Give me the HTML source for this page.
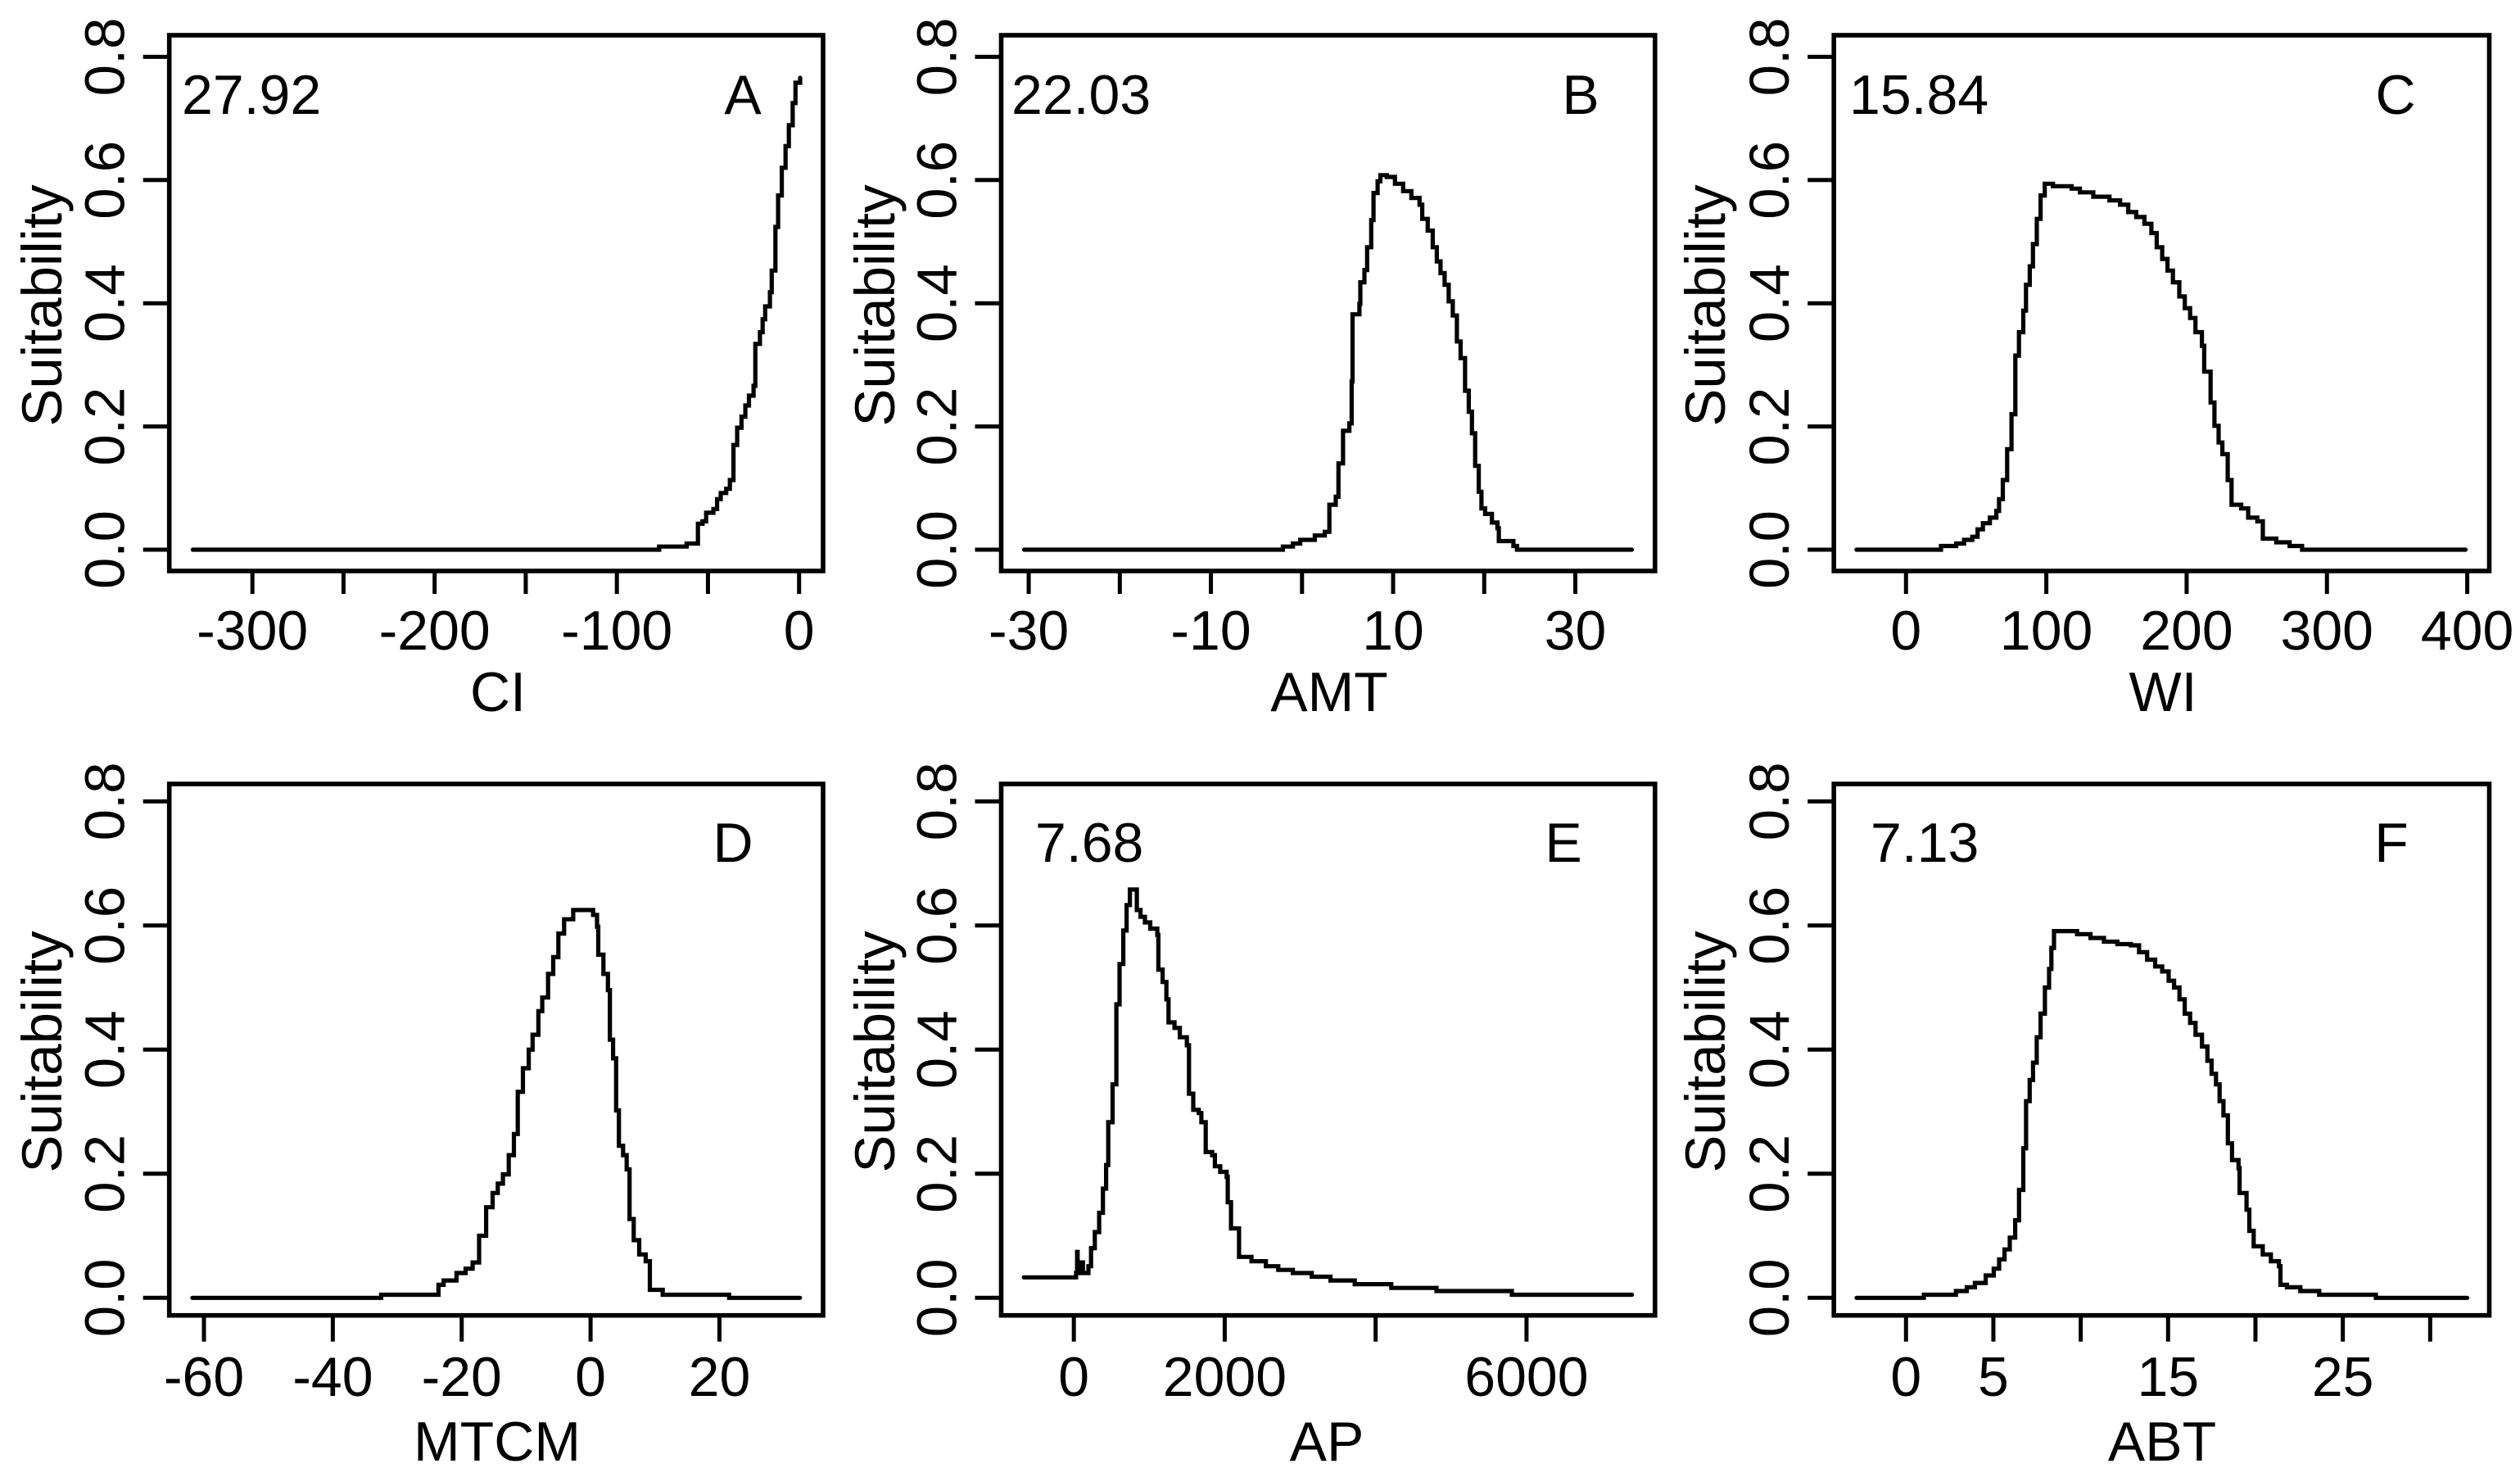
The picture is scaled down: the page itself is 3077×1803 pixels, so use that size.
<!DOCTYPE html>
<html lang="en">
<head>
<meta charset="utf-8">
<title>Suitability response curves</title>
<style>
  html, body { margin: 0; padding: 0; background: #fff; }
  svg { display: block; }
  text { font-family: "Liberation Sans", Arial, sans-serif; font-size: 68px; fill: #000; }
  text.rot { font-size: 69px; }
  .frame { fill: none; stroke: #000; stroke-width: 5.6; stroke-linejoin: miter; }
</style>
</head>
<body>
<svg id="chart" xmlns="http://www.w3.org/2000/svg" width="3077" height="1803" viewBox="0 0 3077 1803">
  <rect x="0" y="0" width="3077" height="1803" fill="#fff"/>

  <g id="panel-a">
    <rect class="frame" x="206.7" y="43" width="798.3" height="654"/>
    <text class="rot" x="75" y="373" transform="rotate(-90 75 373)" text-anchor="middle">Suitability</text>
    <text x="608" y="868" text-anchor="middle">CI</text>
    <text x="222" y="139">27.92</text>
    <text x="907" y="139" text-anchor="middle">A</text>
  </g>
  <g id="panel-b">
    <rect class="frame" x="1222.5" y="43" width="798.3" height="654"/>
    <text class="rot" x="1092" y="373" transform="rotate(-90 1092 373)" text-anchor="middle">Suitability</text>
    <text x="1623" y="868" text-anchor="middle">AMT</text>
    <text x="1235" y="139">22.03</text>
    <text x="1930" y="139" text-anchor="middle">B</text>
  </g>
  <g id="panel-c">
    <rect class="frame" x="2239.2" y="43" width="800.3" height="654"/>
    <text class="rot" x="2106" y="373" transform="rotate(-90 2106 373)" text-anchor="middle">Suitability</text>
    <text x="2641" y="868" text-anchor="middle">WI</text>
    <text x="2258" y="139">15.84</text>
    <text x="2925" y="139" text-anchor="middle">C</text>
  </g>
  <g id="panel-d">
    <rect class="frame" x="206.7" y="957" width="798.3" height="648.7"/>
    <text class="rot" x="75" y="1284" transform="rotate(-90 75 1284)" text-anchor="middle">Suitability</text>
    <text x="607" y="1783" text-anchor="middle">MTCM</text>
    <text x="895" y="1052" text-anchor="middle">D</text>
  </g>
  <g id="panel-e">
    <rect class="frame" x="1222.5" y="957" width="798.3" height="648.7"/>
    <text class="rot" x="1092" y="1284" transform="rotate(-90 1092 1284)" text-anchor="middle">Suitability</text>
    <text x="1620" y="1783" text-anchor="middle">AP</text>
    <text x="1264" y="1052">7.68</text>
    <text x="1909" y="1052" text-anchor="middle">E</text>
  </g>
  <g id="panel-f">
    <rect class="frame" x="2239.2" y="957" width="800.3" height="648.7"/>
    <text class="rot" x="2106" y="1284" transform="rotate(-90 2106 1284)" text-anchor="middle">Suitability</text>
    <text x="2640" y="1783" text-anchor="middle">ABT</text>
    <text x="2284" y="1052">7.13</text>
    <text x="2920" y="1052" text-anchor="middle">F</text>
  </g>
</svg>

<script>
// Shared y axis
const yTickValues = [0, 0.2, 0.4, 0.6, 0.8];
const yTickLabels = ["0.0", "0.2", "0.4", "0.6", "0.8"];

// Panel A: CI
const ciTicks = [-300, -250, -200, -150, -100, -50, 0];
const ciTickLabels = ["-300", "", "-200", "", "-100", "", "0"];
const ciValues = [-332.7,-76.8,-61.7,-55.5,-53,-51,-47,-45,-43,-40,-38,-36,-34,-31.6,-29.5,-27.5,-25,-24,-21.5,-20,-18.6,-16,-15,-13,-11.5,-9.5,-7.4,-5.6,-3.5,-2,0.6];
const ciSuitability = [0,.005,.01,.042,.046,.06,.066,.082,.092,.099,.113,.17,.198,.216,.234,.25,.266,.334,.353,.374,.395,.418,.453,.524,.575,.62,.655,.689,.725,.758,.766];

// Panel B: AMT
const amtTicks = [-30, -20, -10, 0, 10, 20, 30];
const amtTickLabels = ["-30", "", "-10", "", "10", "", "30"];
const amtValues = [-30.5,-2.1,-1,-0.2,1.4,2.5,3,3.7,4,4.5,5.2,5.45,5.55,6.3,6.4,6.85,7.15,7.6,7.85,8.3,8.6,9.3,10.2,11.1,12,12.9,13.2,13.8,14.35,14.8,15.2,15.65,16.1,16.55,17,17.4,17.9,18.3,18.65,19,19.4,19.7,20.1,20.85,21.45,21.6,23.2,23.6,36.2];
const amtSuitability = [0,.005,.01,.016,.023,.029,.073,.086,.14,.193,.205,.273,.382,.399,.434,.454,.491,.535,.579,.598,.608,.605,.594,.582,.571,.56,.537,.518,.491,.468,.449,.43,.403,.38,.338,.311,.258,.224,.189,.136,.094,.067,.058,.044,.035,.014,.006,0,0];

// Panel C: WI
const wiTicks = [0, 100, 200, 300, 400];
const wiTickLabels = ["0", "100", "200", "300", "400"];
const wiValues = [-35.3,24.9,35.7,41.4,47.2,51,54.8,59.8,64.4,66.3,69,72.1,75.2,77.9,80.5,83.6,85.5,88.2,90.5,93.2,95.9,98.9,104.7,118.1,123.9,133.5,145,152.6,158.4,164.1,169.9,174.9,178.7,182.6,186.4,190.2,194.8,198.7,202.5,206.3,210.9,212.5,217.1,219.8,222.8,225.5,229.3,232,238.9,243.9,250.4,254.3,263.9,273.4,282.3,398.8];
const wiSuitability = [0,.006,.01,.016,.021,.033,.043,.052,.063,.082,.113,.163,.22,.315,.353,.388,.43,.46,.496,.537,.575,.594,.59,.586,.58,.573,.567,.56,.548,.54,.529,.514,.491,.472,.453,.434,.411,.392,.376,.353,.331,.289,.239,.201,.174,.155,.113,.073,.067,.052,.046,.018,.012,.006,0,0];

// Panel D: MTCM
const mtcmTicks = [-60, -40, -20, 0, 20];
const mtcmTickLabels = ["-60", "-40", "-20", "0", "20"];
const mtcmValues = [-61.8,-32.5,-23.6,-22.8,-20.8,-19.4,-18.3,-17.3,-16.2,-15.2,-14.4,-13.6,-12.7,-11.9,-11.3,-10.5,-9.6,-9,-8.1,-7.5,-6.6,-5.8,-5,-4.1,-2.7,.4,1,1.2,2,2.7,3,3.5,3.97,4.4,5.05,5.6,6.05,6.7,7.55,8.55,9.2,11.2,21.5,32.5];
const mtcmSuitability = [0,.005,.021,.028,.04,.047,.057,.1,.146,.169,.184,.199,.23,.264,.332,.37,.4,.424,.462,.484,.522,.549,.587,.61,.625,.617,.598,.553,.522,.496,.416,.386,.302,.245,.23,.207,.127,.093,.07,.059,.013,.005,0,0];

// Panel E: AP
const apTicks = [0, 2000, 4000, 6000];
const apTickLabels = ["0", "2000", "", "6000"];
const apValues = [-663,29,43,50,86,121,193,228,278,335,385,428,456,514,563,606,656,699,742,835,884,942,1013,1106,1120,1177,1227,1255,1334,1405,1498,1526,1583,1655,1690,1748,1833,1869,1940,2026,2040,2083,2190,2354,2546,2710,2903,3153,3402,3723,4208,4807,5806,7397];
const apSuitability = [.033,.04,.074,.04,.057,.04,.051,.08,.106,.137,.176,.214,.283,.344,.473,.538,.592,.633,.658,.625,.614,.605,.595,.585,.529,.509,.481,.444,.435,.42,.407,.329,.303,.298,.283,.235,.23,.212,.203,.195,.154,.112,.066,.059,.051,.045,.04,.034,.028,.022,.016,.011,.005,.005];

// Panel F: ABT
const abtTicks = [0, 5, 10, 15, 20, 25, 30];
const abtTickLabels = ["0", "5", "", "15", "", "25", ""];
const abtValues = [-2.83,.86,1.02,2.86,3.48,3.94,4.56,5.02,5.33,5.64,5.94,6.25,6.47,6.71,6.87,7.08,7.27,7.48,7.7,7.95,8.19,8.32,8.47,9.79,10.56,11.33,12.1,12.87,13.34,13.8,14.26,14.66,15.03,15.34,15.65,15.95,16.26,16.57,16.94,17.25,17.49,17.74,17.95,18.17,18.42,18.66,19.03,19.09,19.49,19.65,19.9,20.42,20.88,21.34,21.43,21.8,22.57,23.65,26.89,32.12];
const abtSuitability = [0,0,.005,.011,.017,.024,.036,.047,.062,.078,.097,.125,.174,.241,.317,.351,.379,.42,.458,.5,.53,.564,.591,.586,.58,.574,.57,.568,.557,.545,.534,.526,.511,.5,.481,.458,.443,.424,.405,.382,.361,.344,.317,.294,.249,.222,.209,.169,.142,.108,.083,.07,.059,.051,.021,.017,.011,.005,0,0];

const SVG_NS = "http://www.w3.org/2000/svg";

function makeSvg(tag, attrs, parent) {
  const el = document.createElementNS(SVG_NS, tag);
  Object.keys(attrs).forEach(function (k) { el.setAttribute(k, attrs[k]); });
  parent.appendChild(el);
  return el;
}

function drawPanel(cfg) {
  const g = document.getElementById(cfg.id);
  const xScale = function (v) { return cfg.xZero + cfg.xPerUnit * v; };
  const yScale = function (v) { return cfg.yZero - cfg.yPerUnit * v; };

  // x axis ticks and labels
  cfg.ticks.forEach(function (t, i) {
    const px = xScale(t);
    const tick = makeSvg("line", { x1: px, x2: px, y1: cfg.bottom, y2: cfg.bottom + cfg.xTickLength, stroke: "#000", "stroke-width": 5 }, g);
    
    
    if (cfg.tickLabels[i]) {
      const label = makeSvg("text", { x: px, y: cfg.xLabelBaseline, "text-anchor": "middle" }, g);
      label.textContent = cfg.tickLabels[i];
      
      
    }
  });

  // y axis ticks and labels
  yTickValues.forEach(function (t, i) {
    const py = yScale(t);
    const tick = makeSvg("line", { x1: cfg.left - 32, x2: cfg.left, y1: py, y2: py, stroke: "#000", "stroke-width": 5 }, g);
    
    
    const lx = cfg.left - 55;
    const label = makeSvg("text", { class: "rot", x: lx, y: py, "text-anchor": "middle", transform: "rotate(-90 " + lx + " " + py + ")" }, g);
    label.textContent = yTickLabels[i];
    
    
  });

  // step curve: holds the value until the next x, then jumps
  let d = "M" + xScale(cfg.xs[0]).toFixed(1) + " " + yScale(cfg.ys[0]).toFixed(1);
  for (let i = 1; i < cfg.xs.length; i++) {
    d += "H" + xScale(cfg.xs[i]).toFixed(1) + "V" + yScale(cfg.ys[i]).toFixed(1);
  }
  const curve = makeSvg("path", { d: d, fill: "none", stroke: "#000", "stroke-width": 5.2, "stroke-linejoin": "miter", "stroke-linecap": "round" }, g);
  
  
}

const row1 = { bottom: 697, yZero: 671, yPerUnit: 752, xTickLength: 28, xLabelBaseline: 793 };
const row2 = { bottom: 1605.7, yZero: 1584.3, yPerUnit: 757.5, xTickLength: 32, xLabelBaseline: 1704 };

drawPanel(Object.assign({ id: "panel-a", left: 206.7, xZero: 975.7, xPerUnit: 2.225, ticks: ciTicks, tickLabels: ciTickLabels, xs: ciValues, ys: ciSuitability }, row1));
drawPanel(Object.assign({ id: "panel-b", left: 1222.5, xZero: 1589.8, xPerUnit: 11.124, ticks: amtTicks, tickLabels: amtTickLabels, xs: amtValues, ys: amtSuitability }, row1));
drawPanel(Object.assign({ id: "panel-c", left: 2239.2, xZero: 2327.3, xPerUnit: 1.7132, ticks: wiTicks, tickLabels: wiTickLabels, xs: wiValues, ys: wiSuitability }, row1));
drawPanel(Object.assign({ id: "panel-d", left: 206.7, xZero: 721.1, xPerUnit: 7.868, ticks: mtcmTicks, tickLabels: mtcmTickLabels, xs: mtcmValues, ys: mtcmSuitability }, row2));
drawPanel(Object.assign({ id: "panel-e", left: 1222.5, xZero: 1311.2, xPerUnit: 0.09212, ticks: apTicks, tickLabels: apTickLabels, xs: apValues, ys: apSuitability }, row2));
drawPanel(Object.assign({ id: "panel-f", left: 2239.2, xZero: 2327.3, xPerUnit: 21.334, ticks: abtTicks, tickLabels: abtTickLabels, xs: abtValues, ys: abtSuitability }, row2));
</script>
</body>
</html>
